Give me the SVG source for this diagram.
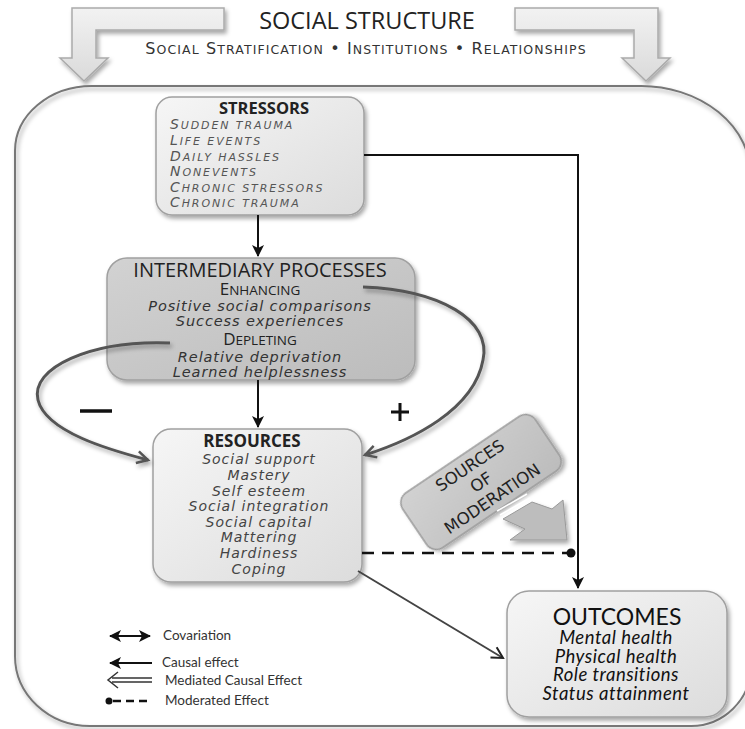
<svg xmlns="http://www.w3.org/2000/svg" width="745" height="729" viewBox="0 0 745 729">
<defs>
<style>
.t{font-family:"Open Sans","Liberation Sans",sans-serif;fill:#222}
.g{font-family:"DejaVu Sans","Liberation Sans",sans-serif}
.c{font-family:Lato,"Liberation Sans",sans-serif}
.it{font-style:italic}
.box{stroke:#a0a0a0;stroke-width:1.5}
.conn{fill:none;stroke:#111;stroke-width:2}
.curve{fill:none;stroke:#555;stroke-width:3}
</style>
<linearGradient id="gl" x1="0" y1="0" x2="1" y2="1">
<stop offset="0" stop-color="#f6f6f6"/><stop offset="1" stop-color="#dcdcdc"/>
</linearGradient>
<linearGradient id="gd" x1="0" y1="0" x2="1" y2="1">
<stop offset="0" stop-color="#d2d2d2"/><stop offset="1" stop-color="#bcbcbc"/>
</linearGradient>
<linearGradient id="ga" x1="0" y1="0" x2="0" y2="1">
<stop offset="0" stop-color="#f2f2f2"/><stop offset="1" stop-color="#dadada"/>
</linearGradient>
<filter id="sh" x="-10%" y="-10%" width="130%" height="130%">
<feDropShadow dx="2" dy="3" stdDeviation="2" flood-color="#000" flood-opacity="0.35"/>
</filter>
<marker id="ah" markerUnits="userSpaceOnUse" markerWidth="12" markerHeight="12" refX="11" refY="6" orient="auto">
<path d="M0,0 L12,6 L0,12 L3,6 z" fill="#111"/>
</marker>
<marker id="ahs" markerUnits="userSpaceOnUse" markerWidth="12" markerHeight="12" refX="1" refY="6" orient="auto">
<path d="M12,0 L0,6 L12,12 L9,6 z" fill="#111"/>
</marker>
<marker id="ao" markerUnits="userSpaceOnUse" markerWidth="16" markerHeight="16" refX="13" refY="8" orient="auto">
<path d="M2,2 L13,8 L2,14" fill="none" stroke="#555" stroke-width="2.5"/>
</marker>
<marker id="ak" markerUnits="userSpaceOnUse" markerWidth="16" markerHeight="16" refX="13" refY="8" orient="auto">
<path d="M2,2 L13,8 L2,14" fill="none" stroke="#222" stroke-width="2"/>
</marker>
</defs>
<rect width="745" height="729" fill="#fff"/>

<g id="social-structure">
<path d="M224,8 H72 V58 H60 L84,81 L108,58 H96 V30 H224 Z" fill="url(#ga)" stroke="#aaa" stroke-width="1.5" filter="url(#sh)"/>
<path d="M515,8 H658 V58 H670 L646,81 L622,58 H634 V30 H515 Z" fill="url(#ga)" stroke="#aaa" stroke-width="1.5" filter="url(#sh)"/>
<text class="t" x="367" y="29" font-size="23.5" text-anchor="middle">SOCIAL STRUCTURE</text>
<text class="g" x="366" y="54" font-size="16" text-anchor="middle" fill="#333" letter-spacing="1.1">S<tspan font-size="12.5">OCIAL</tspan> S<tspan font-size="12.5">TRATIFICATION</tspan> • I<tspan font-size="12.5">NSTITUTIONS</tspan> • R<tspan font-size="12.5">ELATIONSHIPS</tspan></text>
</g>

<g id="frame">
<path d="M92,86 H640 A110,90 0 0 1 751,176 V666 A60,60 0 0 1 690,726 H90 A75,70 0 0 1 15,656 V151 A77,65 0 0 1 92,86 Z" fill="none" stroke="#777" stroke-width="2" filter="url(#sh)"/>
</g>

<g id="stressors">
<rect class="box" x="156" y="97" width="208" height="118" rx="16" fill="url(#gl)" filter="url(#sh)"/>
<text class="t" x="264" y="114" font-size="16.5" font-weight="bold" text-anchor="middle">STRESSORS</text>
<g class="g it" fill="#555" font-size="14" letter-spacing="1.9">
<text x="170" y="129">S<tspan font-size="11">UDDEN TRAUMA</tspan></text>
<text x="170" y="145">L<tspan font-size="11">IFE EVENTS</tspan></text>
<text x="170" y="161">D<tspan font-size="11">AILY HASSLES</tspan></text>
<text x="170" y="176">N<tspan font-size="11">ONEVENTS</tspan></text>
<text x="170" y="192">C<tspan font-size="11">HRONIC STRESSORS</tspan></text>
<text x="170" y="207">C<tspan font-size="11">HRONIC TRAUMA</tspan></text>
</g>
</g>

<g id="intermediary">
<rect class="box" x="107" y="258" width="308" height="122" rx="20" fill="url(#gd)" filter="url(#sh)"/>
<text class="t" x="260" y="277" font-size="20" text-anchor="middle" fill="#333">INTERMEDIARY PROCESSES</text>
<text class="t" x="260" y="295" font-size="17" text-anchor="middle" fill="#333">E<tspan font-size="13.5">NHANCING</tspan></text>
<g class="g it" font-size="14.5" text-anchor="middle" fill="#333" letter-spacing="0.9">
<text x="260" y="311">Positive social comparisons</text>
<text x="260" y="326">Success experiences</text>
<text x="260" y="362">Relative deprivation</text>
<text x="260" y="377">Learned helplessness</text>
</g>
<text class="t" x="260" y="345" font-size="17" text-anchor="middle" fill="#333">D<tspan font-size="13.5">EPLETING</tspan></text>
</g>

<g id="resources">
<rect class="box" x="153" y="429" width="209" height="153" rx="18" fill="url(#gl)" filter="url(#sh)"/>
<text class="t" x="252" y="447" font-size="17" font-weight="bold" text-anchor="middle">RESOURCES</text>
<g class="g it" fill="#444" font-size="14" text-anchor="middle" letter-spacing="1">
<text x="259" y="464">Social support</text>
<text x="259" y="480">Mastery</text>
<text x="259" y="496">Self esteem</text>
<text x="259" y="511">Social integration</text>
<text x="259" y="527">Social capital</text>
<text x="259" y="542">Mattering</text>
<text x="259" y="558">Hardiness</text>
<text x="259" y="574">Coping</text>
</g>
</g>

<g id="moderation">
<g transform="translate(481,482) rotate(-34)">
<rect x="-80" y="-33" width="160" height="66" rx="12" fill="url(#gd)" stroke="#999" stroke-width="1.5" filter="url(#sh)"/>
<g class="g" font-size="16.5" fill="#222" text-anchor="middle">
<text x="0" y="-14">SOURCES</text>
<text x="0" y="6">OF</text>
<text x="0" y="26">MODERATION</text>
</g>
</g>
<path d="M532,502 L552,509 L563,500 L567,540 L510,540 L525,529 L503,519 Z" fill="#bdbdbd" stroke="#999" stroke-width="1" filter="url(#sh)"/>
<path d="M497,511 L527,494 M500,515 L530,498" stroke="#fff" stroke-width="1.5"/>
</g>

<g id="outcomes">
<rect class="box" x="507" y="591" width="220" height="126" rx="22" fill="url(#gl)" filter="url(#sh)"/>
<text class="c" x="617" y="625" font-size="23" text-anchor="middle" fill="#111">OUTCOMES</text>
<g class="c it" font-size="18.5" text-anchor="middle" fill="#111" letter-spacing="0.5">
<text x="616" y="644">Mental health</text>
<text x="616" y="663">Physical health</text>
<text x="616" y="681">Role transitions</text>
<text x="616" y="700">Status attainment</text>
</g>
</g>

<g id="legend">
<path d="M110,636 H150" stroke="#111" stroke-width="2" marker-end="url(#ah)" marker-start="url(#ahs)"/>
<path d="M152,663 H110" stroke="#111" stroke-width="2" marker-end="url(#ah)"/>
<path d="M112,678 H152 M112,682 H152" stroke="#333" stroke-width="1.3"/>
<path d="M118,672 L108,680 L118,688" fill="none" stroke="#333" stroke-width="1.5"/>
<circle cx="109" cy="701" r="3.5" fill="#111"/>
<path d="M113,701 H152" stroke="#111" stroke-width="2.5" stroke-dasharray="8,5"/>
<g class="c" font-size="13.5" fill="#333">
<text x="163" y="640">Covariation</text>
<text x="162" y="667">Causal effect</text>
<text x="165" y="685">Mediated Causal Effect</text>
<text x="165" y="705">Moderated Effect</text>
</g>
</g>

<g id="connectors">
<path class="conn" d="M364,155 H578 V588" marker-end="url(#ah)"/>
<path class="conn" d="M258,215 V256" marker-end="url(#ah)"/>
<path class="conn" d="M258,380 V427" marker-end="url(#ah)"/>
<path d="M362,553 H568" fill="none" stroke="#111" stroke-width="2.5" stroke-dasharray="12,8"/>
<circle cx="571" cy="553" r="4.5" fill="#111"/>
<path d="M358,571 L503,658" fill="none" stroke="#444" stroke-width="2" marker-end="url(#ak)"/>
<path class="curve" d="M170,343 C90,340 30,368 38,400 C46,432 110,450 148,460" marker-end="url(#ao)" filter="url(#sh)"/>
<path class="curve" d="M363,287 C440,290 492,320 483,360 C474,410 412,440 365,455" marker-end="url(#ao)" filter="url(#sh)"/>
<path d="M80,411 H112" stroke="#111" stroke-width="3.5"/>
<path d="M391,412 H409 M400,403 V421" stroke="#111" stroke-width="3"/>
</g>
</svg>
